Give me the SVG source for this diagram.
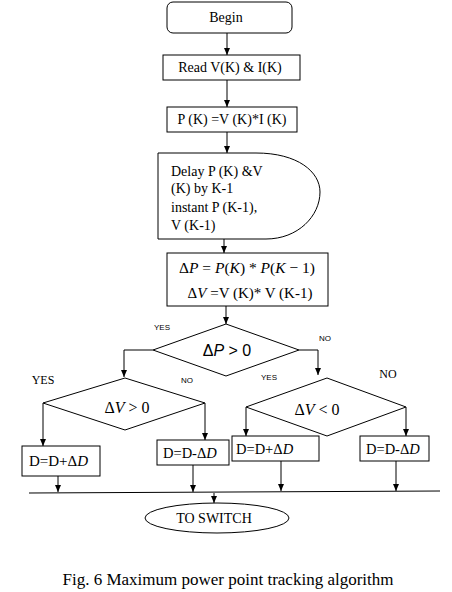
<svg xmlns="http://www.w3.org/2000/svg" width="452" height="592" viewBox="0 0 452 592">
<defs>
<marker id="ah" markerWidth="8" markerHeight="8" refX="7" refY="4" orient="auto" markerUnits="userSpaceOnUse">
<path d="M0,1 L7,4 L0,7 Z" fill="#000"/>
</marker>
<style>
.box{fill:#fff;stroke:#000;stroke-width:1}
.t{font-family:"Liberation Serif",serif;font-size:14px;fill:#000}
.m{font-family:"Liberation Serif",serif;font-size:15px;fill:#000}
.i{font-style:italic}
.s{font-family:"Liberation Sans",sans-serif;font-size:8px;fill:#000}
.c{stroke:#000;stroke-width:1;fill:none}
.a{stroke:#000;stroke-width:1;fill:none;marker-end:url(#ah)}
</style>
</defs>
<rect width="452" height="592" fill="#fff"/>
<g id="connectors">
<line class="a" x1="227" y1="33" x2="227" y2="55"/>
<line class="a" x1="227" y1="80" x2="227" y2="107"/>
<line class="a" x1="227" y1="132" x2="227" y2="153"/>
<line class="a" x1="224" y1="239" x2="224" y2="253"/>
<line class="a" x1="226" y1="306" x2="226" y2="324"/>
<polyline class="a" points="153,350 124,350 124,377"/>
<polyline class="a" points="299,350 318,350 318,375"/>
<polyline class="a" points="43,403 43,446"/>
<polyline class="a" points="205,403 205,440"/>
<polyline class="a" points="246,407 246,436"/>
<polyline class="a" points="406,407 406,436"/>
<line class="a" x1="58" y1="476" x2="58" y2="492"/>
<line class="a" x1="193" y1="465" x2="193" y2="492"/>
<line class="a" x1="281" y1="461" x2="281" y2="491"/>
<line class="a" x1="396" y1="461" x2="396" y2="491"/>
<line class="c" x1="29" y1="493" x2="440" y2="491"/>
<line class="a" x1="214" y1="493" x2="214" y2="503"/>
</g>
<g id="begin">
<rect class="box" x="167" y="2" width="125" height="31" rx="6"/>
<text class="t" x="226" y="22" text-anchor="middle">Begin</text>
</g>
<g id="read">
<rect class="box" x="163" y="55" width="137" height="25"/>
<text class="t" x="230" y="72" text-anchor="middle">Read V(K) &amp; I(K)</text>
</g>
<g id="power">
<rect class="box" x="167" y="107" width="130" height="25"/>
<text class="t" x="232" y="124" text-anchor="middle">P (K) =V (K)*I (K)</text>
</g>
<g id="delay">
<path class="box" d="M158,153 H256 C298,153 320,172 320,192 C320,216 298,239 266,239 H158 Z"/>
<text class="t" x="171" y="176">Delay P (K) &amp;V</text>
<text class="t" x="171" y="193">(K) by K-1</text>
<text class="t" x="171" y="212">instant P (K-1),</text>
<text class="t" x="171" y="230">V (K-1)</text>
</g>
<g id="delta">
<rect class="box" x="167" y="253" width="161" height="53"/>
<text class="m" x="247" y="273" text-anchor="middle" style="font-size:15.5px">Δ<tspan class="i">P</tspan> = <tspan class="i">P</tspan>(<tspan class="i">K</tspan>) * <tspan class="i">P</tspan>(<tspan class="i">K</tspan> − 1)</text>
<text class="m" x="250" y="298" text-anchor="middle">Δ<tspan class="i">V</tspan> =V (K)* V (K-1)</text>
</g>
<g id="dp">
<polygon class="box" points="226,324 299,350 226,376 153,350"/>
<text class="m" x="227" y="356" text-anchor="middle" style="font-family:'Liberation Sans',sans-serif;font-size:16px">Δ<tspan class="i">P</tspan> &gt; 0</text>
<text class="s" x="162" y="330" text-anchor="middle">YES</text>
<text class="s" x="325" y="341" text-anchor="middle">NO</text>
</g>
<g id="dv1">
<polygon class="box" points="125,378 205,403 125,430 43,403"/>
<text class="m" x="127" y="413" text-anchor="middle" style="font-size:16px">Δ<tspan class="i">V</tspan> &gt; 0</text>
<text class="t" x="43" y="384" text-anchor="middle" style="font-size:12px">YES</text>
<text class="s" x="187" y="383" text-anchor="middle">NO</text>
</g>
<g id="dv2">
<polygon class="box" points="327,378 406,407 327,436 246,407"/>
<text class="m" x="317" y="415" text-anchor="middle" style="font-size:16px">Δ<tspan class="i">V</tspan> &lt; 0</text>
<text class="s" x="269" y="380" text-anchor="middle">YES</text>
<text class="t" x="388" y="378" text-anchor="middle" style="font-size:12px">NO</text>
</g>
<g id="inc1">
<rect class="box" x="22" y="446" width="78" height="30"/>
<text class="t" x="29" y="466" style="font-size:15px">D=D+Δ<tspan class="i">D</tspan></text>
</g>
<g id="dec1">
<rect class="box" x="157" y="440" width="72" height="25"/>
<text class="t" x="163" y="458" style="font-size:14.5px">D=D-Δ<tspan class="i">D</tspan></text>
</g>
<g id="inc2">
<rect class="box" x="232" y="436" width="87" height="25"/>
<text class="t" x="236" y="454" style="font-size:14.5px">D=D+Δ<tspan class="i">D</tspan></text>
</g>
<g id="dec2">
<rect class="box" x="360" y="436" width="69" height="25"/>
<text class="t" x="366" y="454" style="font-size:14.5px">D=D-Δ<tspan class="i">D</tspan></text>
</g>
<g id="switch">
<ellipse class="box" cx="217" cy="518" rx="72" ry="15"/>
<text class="t" x="214" y="523" text-anchor="middle">TO SWITCH</text>
</g>
<text class="t" x="228" y="585" text-anchor="middle" style="font-size:17px">Fig. 6 Maximum power point tracking algorithm</text>
</svg>
